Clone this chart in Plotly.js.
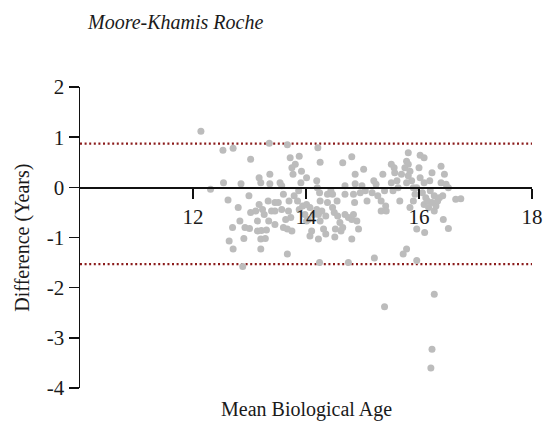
<!DOCTYPE html>
<html>
<head>
<meta charset="utf-8">
<script src="https://cdn.plot.ly/plotly-3.0.1.min.js"></script>
<style>html,body{margin:0;padding:0;background:#fff;}#chart{width:547px;height:425px;}</style>
</head>
<body>
<div id="chart"></div>
<script>
// Mean biological age (x) and difference in years (y)
const meanAge = [12.14,12.31,12.54,12.53,12.71,12.62,12.80,12.70,12.64,12.71,12.83,12.85,13.02,12.99,12.92,12.90,12.88,13.00,13.02,13.11,
13.14,13.14,13.21,13.30,13.20,13.28,13.20,13.17,13.20,13.36,13.35,13.36,13.17,13.23,13.26,13.33,13.39,13.45,13.51,13.45,
13.34,13.45,13.54,13.57,13.60,13.57,13.64,13.60,13.67,13.67,13.72,13.75,13.81,13.77,13.70,13.69,13.79,13.73,13.75,13.67,
13.88,13.92,14.01,13.91,13.87,13.85,13.88,13.94,14.01,14.07,13.98,14.04,14.01,14.13,14.10,14.07,14.19,14.21,14.25,14.20,
14.24,14.25,14.19,14.22,14.28,14.35,14.25,14.22,14.24,14.35,14.31,14.38,14.44,14.47,14.38,14.47,14.50,14.56,14.55,14.65,
14.81,14.69,14.69,14.60,14.65,14.52,14.51,14.62,14.69,14.75,14.81,14.84,14.81,14.75,14.87,14.87,14.84,14.86,14.90,14.93,
14.99,15.02,14.96,15.05,15.08,15.20,15.24,15.17,15.27,15.33,15.36,15.39,15.33,15.41,15.42,15.21,15.39,15.51,15.56,15.51,
15.57,15.61,15.54,15.63,15.66,15.69,15.75,15.78,15.81,15.81,15.84,15.81,15.78,15.87,15.90,15.93,15.96,15.84,15.90,15.78,
15.72,15.96,15.96,16.02,16.09,16.00,16.02,16.09,16.06,16.12,16.09,16.15,16.10,16.19,16.23,16.20,16.27,16.17,16.23,16.27,
16.30,16.33,16.36,16.39,16.39,16.45,16.48,16.52,16.42,16.43,16.52,16.27,16.23,16.21,16.65,16.74];
const difference = [1.12,-0.04,0.09,0.74,0.78,-0.25,-0.40,-0.80,-1.07,-1.23,-0.67,0.07,0.56,-0.17,-0.80,-1.02,-1.58,-0.82,-0.50,-0.47,
-0.67,-0.87,-0.86,-0.85,-1.03,-1.02,-1.23,0.19,0.09,0.26,0.88,0.07,-0.34,-0.44,-0.54,-0.27,-0.47,-0.30,-0.30,-0.47,
-0.67,-0.74,0.09,0.03,-0.14,-0.44,-0.64,-0.80,-1.33,0.85,0.59,0.39,0.46,0.26,-0.27,-0.47,-0.17,-0.60,-0.87,-0.83,
0.62,0.32,0.19,0.09,-0.07,-0.27,-0.44,-0.37,-0.34,-0.40,-0.54,-0.64,-0.67,-0.54,-0.87,-0.97,0.13,0.79,0.50,-0.01,
-0.11,-0.27,-0.44,-0.54,-0.47,-0.57,-0.67,-1.03,-1.50,-0.93,-0.83,-0.14,-0.07,-0.14,-0.30,-0.40,-0.50,-0.57,-0.27,0.49,
0.61,0.03,-0.14,-0.70,-0.80,-0.83,-0.99,-0.87,-0.54,-0.60,-0.64,-0.54,-1.03,-1.50,0.26,0.07,-0.14,-0.30,-0.67,-0.83,
0.03,0.36,-0.11,-0.07,-0.27,0.13,0.06,-0.11,-0.17,-0.27,0.26,-0.07,-0.47,-0.37,-0.47,-1.41,-2.38,0.46,0.39,0.09,
0.29,0.13,-0.07,-0.01,-0.27,0.26,0.39,0.52,0.69,0.46,0.32,0.23,0.09,0.13,-0.01,-0.14,-0.01,-0.40,-0.27,-1.23,
-1.33,-0.83,-1.46,0.64,0.59,0.39,0.19,0.09,-0.11,-0.21,-0.34,-0.27,-0.90,0.13,0.29,-0.07,-0.17,-0.40,-0.30,-0.47,
-0.37,-0.27,-0.21,0.09,0.42,0.26,0.06,-0.01,-0.17,-0.64,-0.82,-2.13,-3.23,-3.60,-0.24,-0.23];
const upperLimit = 0.87;
const lowerLimit = -1.53;
const xTicks = [12,14,16,18];
const xTickLabels = ["12","14","16","18"];
const yTicks = [-4,-3,-2,-1,0,1,2];
const yTickLabels = ["-4","-3","-2","-1","0","1","2"];
const titleText = "Moore-Khamis Roche";
const xTitle = "Mean Biological Age";
const yTitle = "Difference (Years)";

const serifFamily = "Liberation Serif";
const limitLine = {color:'#8b1c1c', width:2.2, dash:'2px,2.6px'};

Plotly.newPlot('chart', [{
  type:'scatter', mode:'markers', x:meanAge, y:difference,
  marker:{color:'#bcbcbc', size:7, line:{width:0}},
  hoverinfo:'none', showlegend:false
}], {
  width:547, height:425,
  margin:{l:80, r:15, t:87, b:37},
  paper_bgcolor:'#fff', plot_bgcolor:'#fff',
  font:{family:serifFamily, size:20, color:'#1a1a1a'},
  xaxis:{range:[10,18], anchor:'free', position:4/6, showline:true, linecolor:'#111', linewidth:1.5,
    ticks:'outside', ticklen:10, tickwidth:1.5, tickcolor:'#111', tickmode:'array', tickvals:xTicks, ticktext:xTickLabels,
    showgrid:false, zeroline:false, tickfont:{family:serifFamily, size:21, color:'#1a1a1a'}},
  yaxis:{range:[-4,2], showline:true, linecolor:'#111', linewidth:1.5,
    ticks:'outside', ticklen:10, tickwidth:1.5, tickcolor:'#111', tickmode:'array', tickvals:yTicks, ticktext:yTickLabels,
    showgrid:false, zeroline:false, tickfont:{family:serifFamily, size:21, color:'#1a1a1a'}},
  shapes:[
    {type:'line', xref:'x', yref:'y', x0:10, x1:18, y0:upperLimit, y1:upperLimit, line:limitLine, layer:'below'},
    {type:'line', xref:'x', yref:'y', x0:10, x1:18, y0:lowerLimit, y1:lowerLimit, line:limitLine, layer:'below'}
  ],
  annotations:[
    {text:titleText, xref:'paper', yref:'paper', x:0.011, y:1.216, xanchor:'left', yanchor:'middle', showarrow:false,
     font:{family:serifFamily, size:20, color:'#1a1a1a', style:'italic'}},
    {text:xTitle, xref:'paper', yref:'paper', x:0.5, y:-0.073, xanchor:'center', yanchor:'middle', showarrow:false,
     font:{family:serifFamily, size:20, color:'#1a1a1a'}},
    {text:yTitle, xref:'paper', yref:'paper', x:-0.128, y:0.5, xanchor:'center', yanchor:'middle', textangle:-90, showarrow:false,
     font:{family:serifFamily, size:20, color:'#1a1a1a'}}
  ]
}, {staticPlot:true, displayModeBar:false});
</script>
</body>
</html>
